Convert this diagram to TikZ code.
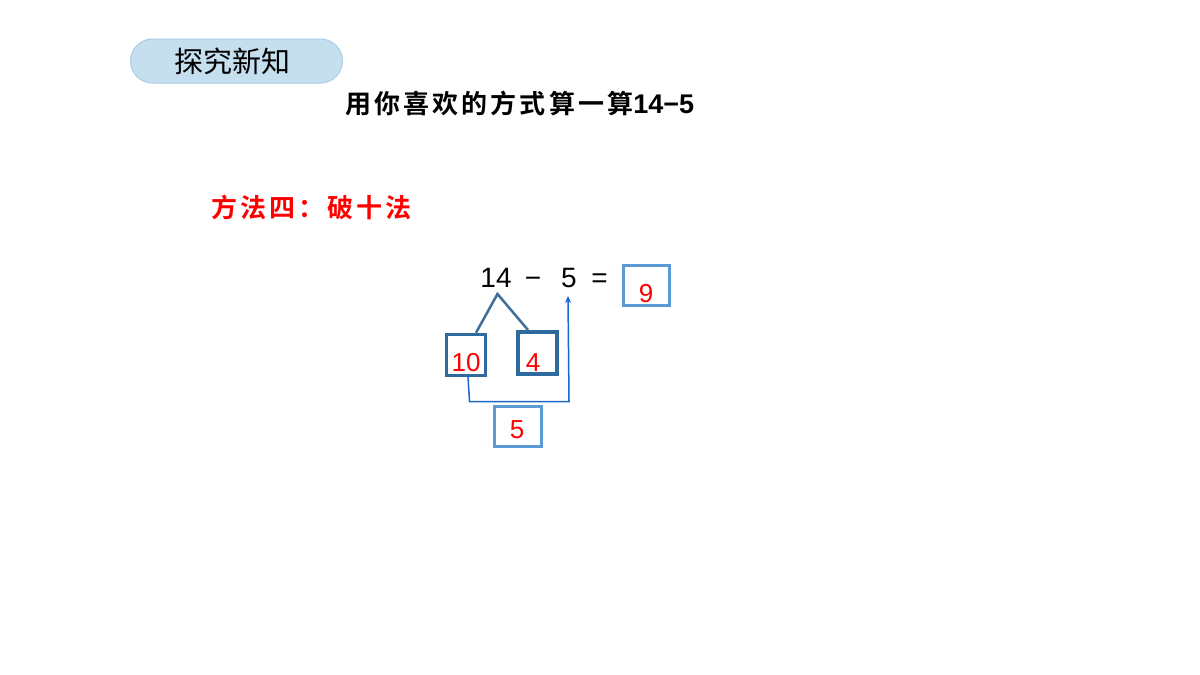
\documentclass[tikz,border=0pt]{standalone}
\usepackage{fontspec}
\setmainfont{Liberation Sans}
\newfontfamily\cjk{Noto Sans CJK SC}
\newfontfamily\cjkb[LetterSpace=12]{Noto Sans CJK SC Bold}
\newfontfamily\numf{Liberation Sans}
\usetikzlibrary{arrows.meta}
\definecolor{pillfill}{HTML}{C5DFEF}
\definecolor{pilldraw}{HTML}{A9CDE6}
\definecolor{lightbox}{HTML}{5B9BD5}
\definecolor{darkbox}{HTML}{2F6A9F}
\definecolor{treeline}{HTML}{3F6F98}
\definecolor{bracket}{HTML}{1A66CC}
\definecolor{ansred}{HTML}{FF0000}
\tikzset{
  numtext/.style={font=\numf\fontsize{28}{30}\selectfont, inner sep=0pt, anchor=base},
  ans/.style={font=\numf\fontsize{26}{28}\selectfont, text=ansred, inner sep=0pt, anchor=base},
  lightsq/.style={draw=lightbox, line width=3pt, minimum width=46pt, minimum height=40pt, inner sep=0pt},
  darksq/.style={draw=darkbox, line width=3.5pt, minimum width=39pt, minimum height=41pt, inner sep=0pt},
}
\begin{document}
\begin{tikzpicture}[x=1pt,y=-1pt]
\useasboundingbox (0,0) rectangle (1200,675);
% header pill
\node[draw=pilldraw, fill=pillfill, line width=1pt, rounded corners=22pt,
      minimum width=212pt, minimum height=44pt, inner sep=0pt] (pill) at (236.5,61) {};
\node[font=\cjk\fontsize{29}{31}\selectfont, inner sep=0pt] (pilltext) at (232,61) {探究新知};
% title
\node[font=\cjkb\fontsize{26}{28}\selectfont, inner sep=0pt, anchor=west] (title) at (345,104)
  {用你喜欢的方式算一算{\numf\bfseries\fontsize{27}{29}\selectfont 14−5}};
% method
\node[font=\cjkb\fontsize{26}{28}\selectfont, text=ansred, inner sep=0pt, anchor=west] (method) at (211,207)
  {方法四：破十法};
% equation
\node[numtext] (n14) at (496,287) {14};
\node[numtext] (minus) at (533,287) {−};
\node[numtext] (n5) at (569,287) {5};
\node[numtext] (eq) at (599.5,287) {=};
\node[lightsq, minimum width=46pt, minimum height=40pt] (b9) at (646,285) {};
\node[ans] (a9) at (646,302) {9};
% decomposition
\coordinate (apex) at (497.5,294);
\node[darksq] (b10) at (466,355) {};
\node[ans] (a10) at (466,371) {10};
\node[darksq, minimum width=39pt, minimum height=42pt] (b4) at (537.5,353) {};
\node[ans] (a4) at (533,371) {4};
\draw[treeline, line width=2.5pt] (b10.north)++(10,0) coordinate (l1) (l1) -- (apex) -- (528,330) coordinate (r1);
% bracket
\coordinate (bl) at (469.5,401.5);
\coordinate (br) at (569,401.5);
\coordinate (tip) at (568,296);
\draw[bracket, line width=1.5pt, -{Stealth[length=7pt,width=6pt]}]
  (468,377) -- (bl) -- (br) -- (tip);
\node[lightsq, minimum width=47pt, minimum height=40pt] (b5) at (517.5,426) {};
\node[ans] (a5) at (517,438) {5};
\end{tikzpicture}
\end{document}
